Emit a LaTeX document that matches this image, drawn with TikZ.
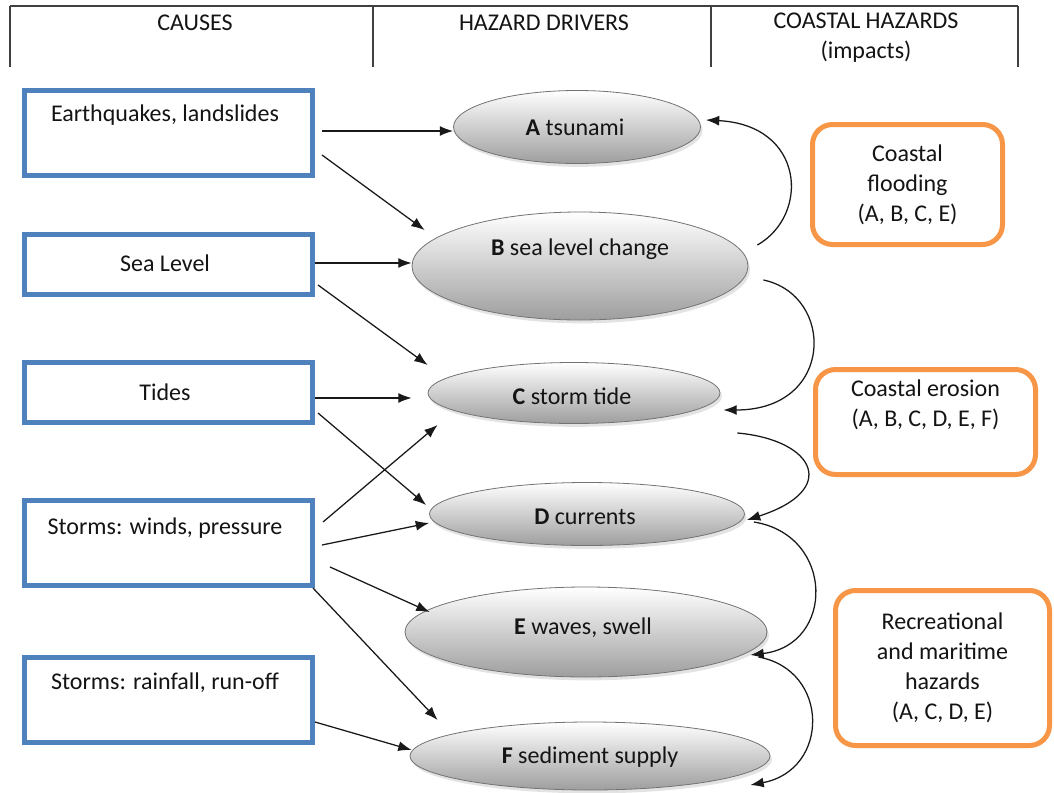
\documentclass[tikz,border=0pt]{standalone}
\usepackage{fontspec}
\setmainfont{Carlito}
\usetikzlibrary{shapes.geometric,arrows.meta,calc,shadows}
\definecolor{causeblue}{HTML}{4F81BD}
\definecolor{impactorange}{HTML}{F79646}
\begin{document}
\begin{tikzpicture}[x=0.75pt,y=-0.75pt,
  txt/.style={font=\fontsize{18}{22.5}\selectfont, text=black!92, inner sep=0pt, align=center},
  cause/.style={draw=causeblue, line width=3.75pt, minimum width=216pt, inner sep=0pt},
  driver/.style={ellipse, draw=black!55, line width=0.6pt, top color=white, bottom color=black!38,
    drop shadow={shadow xshift=1.5pt, shadow yshift=-2.5pt, opacity=0.22}, inner sep=0pt},
  impact/.style={draw=impactorange, line width=3.75pt, rounded corners=15pt, inner sep=0pt,
    align=center, font=\fontsize{18}{22.5}\selectfont, text=black!92},
  arr/.style={-{Latex[length=10pt,width=7.5pt]}, line width=0.95pt, black!90},
  rule/.style={line width=1.5pt, black!75}
]
\useasboundingbox (0,0) rectangle (1054,793);
\fill[white] (0,0) rectangle (1054,793);

% column headings
\draw[rule] (10,6) -- (1018,6);
\foreach \x in {10,373,711,1018} \draw[rule] (\x,6) -- (\x,67);
\node[txt] (hcause) at (195,23) {CAUSES};
\node[txt] (hdriver) at (544,23) {HAZARD DRIVERS};
\node[txt] (himpact) at (866,38) {COASTAL HAZARDS\\(impacts)};

% causes
\node[cause, minimum height=63.75pt] (c1) at (168.5,133) {};
\node[txt] (t1) at (165,115) {Earthquakes, landslides};
\node[cause, minimum height=45pt] (c2) at (168.5,264.5) {};
\node[txt] (t2) at (165,263) {Sea Level};
\node[cause, minimum height=45pt] (c3) at (168.5,392.5) {};
\node[txt] (t3) at (165,392) {Tides};
\node[cause, minimum height=63.75pt] (c4) at (168.5,543) {};
\node[txt] (t4) at (165,528) {Storms: winds, pressure};
\node[cause, minimum height=63.75pt] (c5) at (168.5,700) {};
\node[txt] (t5) at (165,683) {Storms: rainfall, run-off};

% hazard drivers
\node[driver, minimum width=185.25pt, minimum height=54.75pt] (A) at (577,127) {};
\node[txt] (tA) at (575,127) {\textbf{A} tsunami};
\node[driver, minimum width=252pt, minimum height=81pt] (B) at (580,266) {};
\node[txt] (tB) at (580,249) {\textbf{B} sea level change};
\node[driver, minimum width=219pt, minimum height=45.75pt] (C) at (574,393) {};
\node[txt] (tC) at (572,396) {\textbf{C} storm tide};
\node[driver, minimum width=236.25pt, minimum height=47.25pt] (D) at (587,514) {};
\node[txt] (tD) at (585,517) {\textbf{D} currents};
\node[driver, minimum width=271.5pt, minimum height=67.5pt] (E) at (586,632) {};
\node[txt] (tE) at (583,628) {\textbf{E} waves, swell};
\node[driver, minimum width=270pt, minimum height=51pt] (F) at (590,756) {};
\node[txt] (tF) at (590,757) {\textbf{F} sediment supply};

% coastal hazards
\node[impact, minimum width=142.5pt, minimum height=90pt] (i1) at (907.5,184.5)
  {Coastal\\flooding\\(A, B, C, E)};
\node[impact, minimum width=165pt, minimum height=78.75pt] (i2) at (925.5,422)
  {Coastal erosion\\(A, B, C, D, E, F)\\[6pt]};
\node[impact, minimum width=160.5pt, minimum height=116.25pt] (i3) at (942.5,668)
  {Recreational\\and maritime\\hazards\\(A, C, D, E)};

% causes -> drivers
\draw[arr] ($(c1.east)+(7,-2)$) -- ($(A.west)+(0,4)$);
\draw[arr] ($(c1.east)+(7,22)$) -- ($(B.west)+(13,-36)$);
\draw[arr] ($(c2.east)+(0,-1.5)$) -- ($(B.west)+(0,-3)$);
\draw[arr] ($(c2.east)+(3,20.5)$) -- ($(C.west)+(0,-28)$);
\draw[arr] ($(c3.east)+(0,5.5)$) -- ($(C.west)+(-16,5)$);
\draw[arr] ($(c3.east)+(3,20.5)$) -- ($(D.west)+(-3,-9)$);
\draw[arr] ($(c4.east)+(8,-21)$) -- ($(C.west)+(10,32)$);
\draw[arr] ($(c4.east)+(7,2)$) -- ($(D.west)+(0,9)$);
\draw[arr] ($(c4.east)+(15,24)$) -- ($(E.west)+(25,-20)$);
\draw[arr] ($(c4.south east)+(-2,0)$) -- ($(F.west)+(28,-36)$);
\draw[arr] ($(c5.east)+(0,22)$) -- ($(F.west)+(2,-6)$);

% links between drivers
\draw[arr] ($(B.east)+(9,-21)$) .. controls (810,215) and (805,125) .. ($(A.east)+(5,-7)$);
\draw[arr] ($(B.east)+(15,14)$) .. controls (835,295) and (835,410) .. ($(C.east)+(3,17)$);
\draw[arr] ($(C.east)+(17,40)$) .. controls (815,440) and (840,490) .. ($(D.east)+(2,6)$);
\draw[arr] ($(D.east)+(9,8)$) .. controls (835,535) and (835,645) .. ($(E.east)+(-17,23)$);
\draw[arr] ($(E.east)+(-9,25)$) .. controls (830,670) and (830,770) .. ($(F.east)+(-20,29)$);
\end{tikzpicture}
\end{document}
